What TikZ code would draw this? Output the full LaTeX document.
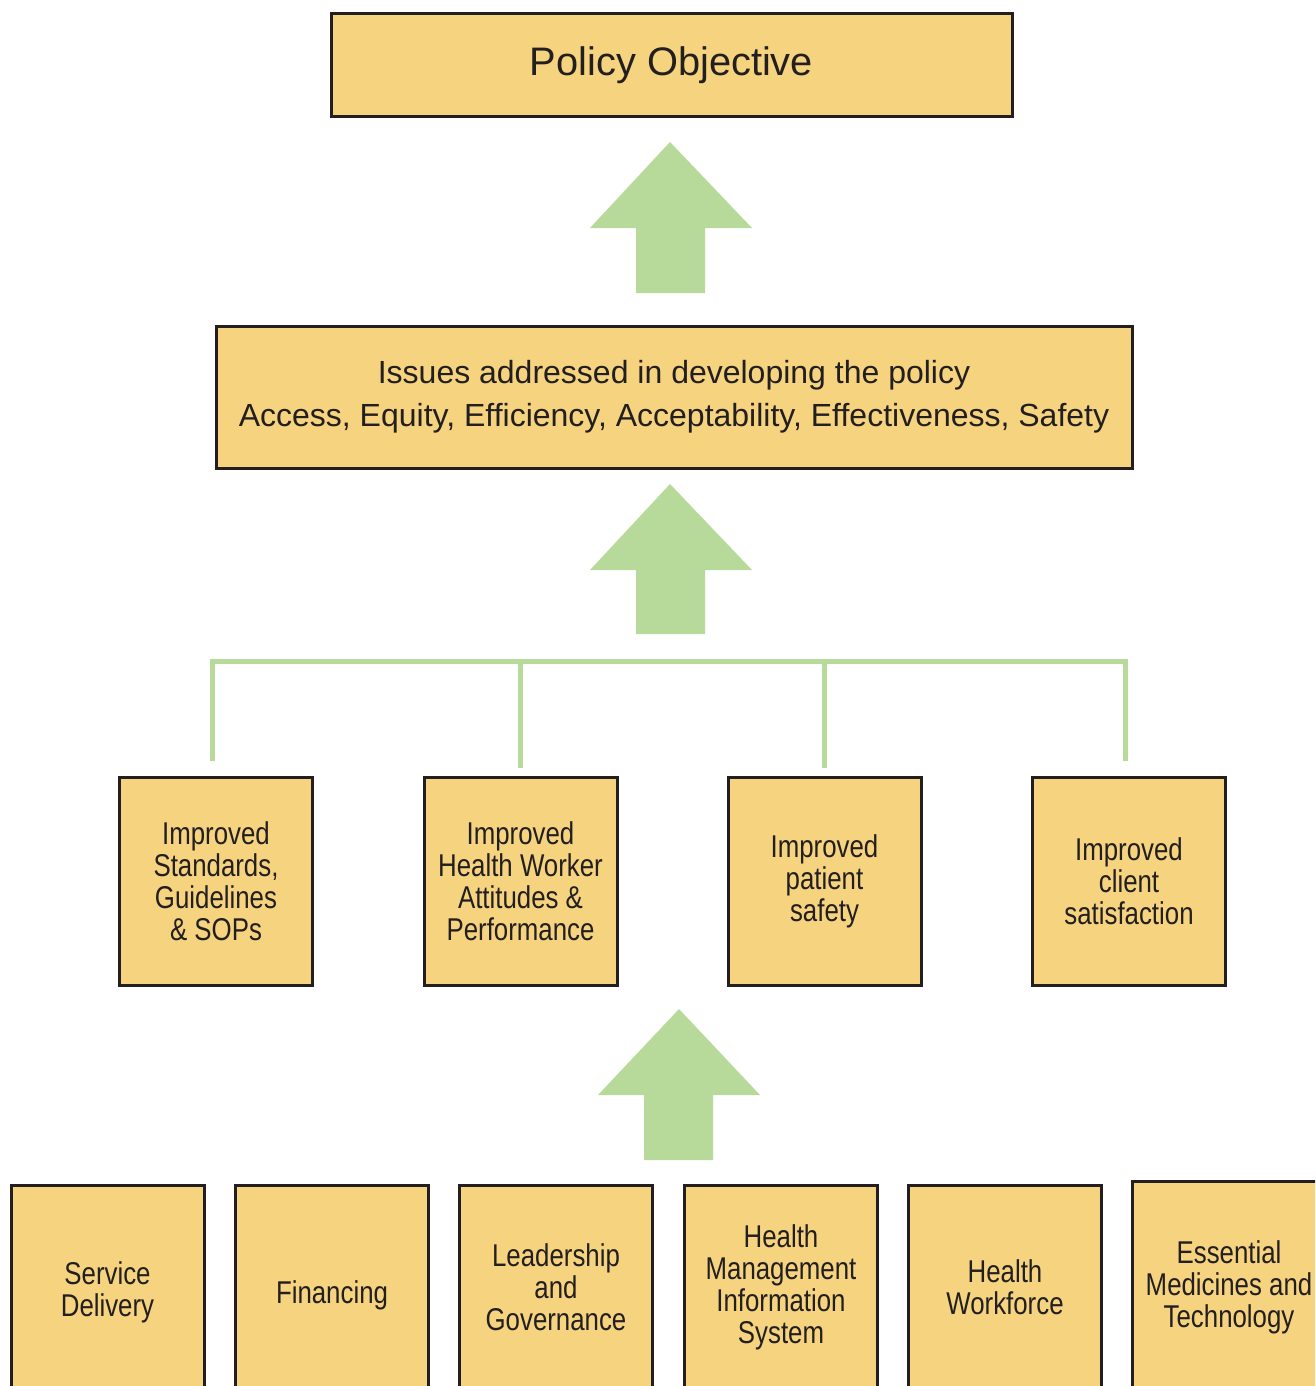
\documentclass[tikz,border=0pt]{standalone}
\usepackage{fontspec}
\setmainfont{Liberation Sans}
\newfontfamily\narrowfont[FakeStretch=0.82]{Liberation Sans}
\definecolor{boxfill}{HTML}{F5D37F}
\definecolor{boxline}{HTML}{231F20}
\definecolor{arrowgreen}{HTML}{B7DA9A}
\tikzset{
  ybox/.style={draw=boxline, line width=3pt, fill=boxfill, rectangle, inner sep=0pt, align=center, text=boxline},
  smallbox/.style={ybox, minimum width=193pt, font=\narrowfont\fontsize{31.5}{32}\selectfont},
  busline/.style={draw=arrowgreen, line width=5pt},
  blockarrow/.style={fill=arrowgreen, draw=none}
}
\begin{document}
\begin{tikzpicture}[x=1pt,y=-1pt]
\useasboundingbox (0,0) rectangle (1315,1386);
\clip (0,0) rectangle (1315,1386);
\fill[white] (0,0) rectangle (1315,1386);

% top boxes
\node[ybox, minimum width=681pt, minimum height=103pt, font=\fontsize{39.8}{46}\selectfont] (obj) at (671.5,65.5) {Policy Objective};
\node[ybox, minimum width=916pt, minimum height=142pt, font=\fontsize{32}{43}\selectfont] (issues) at (674,397) {Issues addressed in developing the policy\\Access, Equity, Efficiency, Acceptability, Effectiveness, Safety};

% middle boxes
\node[smallbox, minimum height=208pt] (m1) at (216,881) {Improved\\Standards,\\Guidelines\\\& SOPs};
\node[smallbox, minimum height=208pt] (m2) at (520.5,881) {Improved\\Health Worker\\Attitudes \&\\Performance};
\node[smallbox, minimum height=208pt] (m3) at (824.5,881) {Improved\\patient\\safety};
\node[smallbox, minimum height=208pt] (m4) at (1129,881) {Improved\\client\\satisfaction};

% bottom boxes
\node[smallbox, minimum height=214pt] (b1) at (107.5,1292) {Service\\Delivery};
\node[smallbox, minimum height=220pt] (b2) at (332,1295) {Financing};
\node[smallbox, minimum height=204pt] (b3) at (556,1287) {Leadership\\and\\Governance};
\node[smallbox, minimum height=204pt] (b4) at (781,1287) {Health\\Management\\Information\\System};
\node[smallbox, minimum height=204pt] (b5) at (1005,1287) {Health\\Workforce};
\node[smallbox, minimum height=212pt] (b6) at (1229,1287) {Essential\\Medicines and\\Technology};

% block arrows
\fill[blockarrow] (670,142) -- (752,228) -- (705,228) -- (705,293) -- (636,293) -- (636,228) -- (590,228) -- cycle;
\fill[blockarrow] (670,484) -- (752,570) -- (705,570) -- (705,634) -- (636,634) -- (636,570) -- (590,570) -- cycle;
\fill[blockarrow] (679,1009) -- (760,1095) -- (713,1095) -- (713,1160) -- (644,1160) -- (644,1095) -- (598,1095) -- cycle;

% bus
\coordinate (busL) at (212,661);
\coordinate (busR) at (1125,661);
\draw[busline] ([xshift=-2.5pt]busL) -- ([xshift=2.5pt]busR);
\draw[busline] ([yshift=2.5pt]busL) -- ([yshift=15pt]busL |- m1.north);
\draw[busline] ([yshift=2.5pt]m2.north |- busL) -- ([yshift=8pt]m2.north);
\draw[busline] ([yshift=2.5pt]m3.north |- busL) -- ([yshift=8pt]m3.north);
\draw[busline] ([yshift=2.5pt]busR) -- ([yshift=15pt]busR |- m4.north);
\end{tikzpicture}
\end{document}
